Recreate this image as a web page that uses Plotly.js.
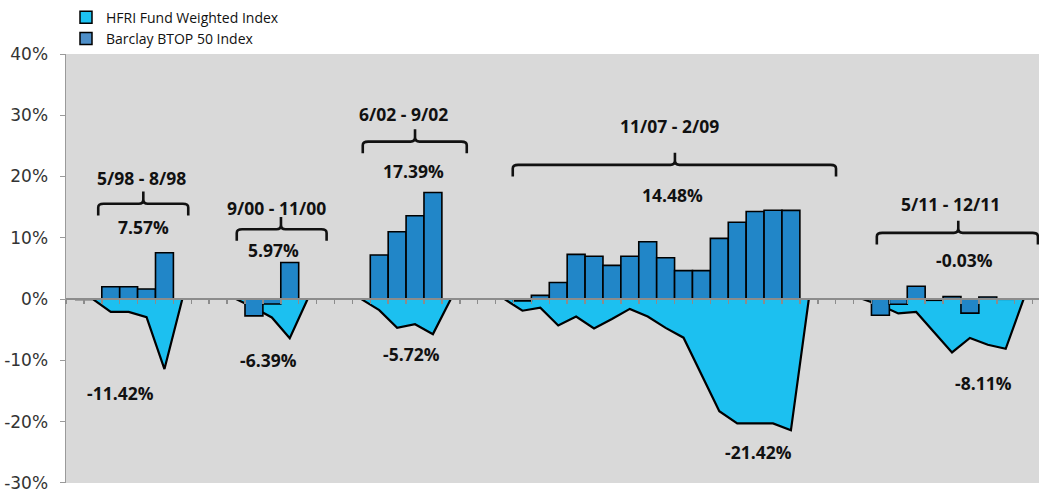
<!DOCTYPE html>
<html>
<head>
<meta charset="utf-8">
<script src="https://cdn.plot.ly/plotly-3.0.1.min.js"></script>
<style>html,body{margin:0;padding:0;background:#fff;}#chart{width:1039px;height:490px;}</style>
</head>
<body>
<div id="chart"></div>
<script>
// Monthly slots (episodes separated by blank slots)
const seriesNames = ['HFRI Fund Weighted Index', 'Barclay BTOP 50 Index'];

// HFRI Fund Weighted Index, cumulative return (%) per slot
const hfri = [0, 0, -2.1, -2.1, -2.95, -11.42, 0, null, null,
  0, -1.4, -3.0, -6.39, 0, null, null,
  0, -1.8, -4.7, -4.1, -5.72, 0, null, null,
  0, -1.9, -1.4, -4.3, -2.85, -4.8, -3.25, -1.6, -2.85, -4.7, -6.3, -12.3, -18.3, -20.3, -20.3, -20.3, -21.42, 0, null, null,
  0, -1.0, -2.35, -2.1, -5.4, -8.7, -6.35, -7.45, -8.11, 0];

// Barclay BTOP 50 Index, cumulative return (%) per slot
const btop = [null, null, 2.0, 2.0, 1.65, 7.57, null, null, null,
  null, -2.75, -0.8, 5.97, null, null, null,
  null, 7.2, 11.0, 13.6, 17.39, null, null, null,
  null, -0.3, 0.6, 2.7, 7.3, 7.0, 5.5, 7.0, 9.35, 6.75, 4.65, 4.65, 9.9, 12.55, 14.3, 14.5, 14.48, null, null, null,
  null, -2.65, -0.85, 2.1, -0.2, 0.4, -2.3, 0.35, -0.03, null];

// Y axis ticks
const yTickVals = [-30, -20, -10, 0, 10, 20, 30, 40];
const yTickText = ['-30%', '-20%', '-10%', '0%', '10%', '20%', '30%', '40%'];

// Episode labels
const periods = ['5/98 - 8/98', '9/00 - 11/00', '6/02 - 9/02', '11/07 - 2/09', '5/11 - 12/11'];
const btopLabels = ['7.57%', '5.97%', '17.39%', '14.48%', '-0.03%'];
const hfriLabels = ['-11.42%', '-6.39%', '-5.72%', '-21.42%', '-8.11%'];

// Annotation placement (slot units / percent)
const bracketL = [1.80, 9.54, 16.58, 24.96, 45.3];
const bracketR = [6.83, 14.56, 22.39, 43.02, 54.3];
const bracketC = [4.32, 12.01, 19.5, 34.02, 49.85];
const bracketY = [15.55, 11.4, 25.7, 21.9, 10.8];
const periodPos = [[4.19, 19.8], [11.77, 14.9], [18.84, 30.2], [33.74, 28.2], [49.39, 15.5]];
const btopPos = [[4.32, 11.8], [11.58, 8.0], [19.44, 20.9], [33.89, 17.0], [50.22, 6.4]];
const hfriPos = [[3.02, -15.4], [11.3, -10.0], [19.31, -8.9], [38.68, -24.9], [51.24, -13.7]];

const CYAN = '#1cc0f0';
const BLUE = '#2186c8';
const LABEL_FONT = {family: 'Open Sans, sans-serif', size: 17.5, color: '#111'};

const traces = [
  {type: 'scatter', mode: 'lines', name: seriesNames[0], x0: 0.5, dx: 1, y: hfri,
   fill: 'tozeroy', fillcolor: CYAN, line: {color: '#000', width: 2.2}, connectgaps: false,
   showlegend: false, xaxis: 'x', yaxis: 'y', hoverinfo: 'y'},
  {type: 'bar', name: seriesNames[1], x0: 0.5, dx: 1, y: btop, width: 1,
   marker: {color: BLUE, line: {color: '#000', width: 1.6}},
   showlegend: false, xaxis: 'x2', yaxis: 'y', hoverinfo: 'y'},
  // legend entries
  {type: 'bar', name: seriesNames[0], x: [null], y: [null], xaxis: 'x', yaxis: 'y',
   marker: {color: '#1dc3f3', line: {color: '#000', width: 1.5}}},
  {type: 'bar', name: seriesNames[1], x: [null], y: [null], xaxis: 'x', yaxis: 'y',
   marker: {color: '#4e8fc9', line: {color: '#000', width: 1.5}}}
];

const shapes = [];
const annotations = [];
for (let i = 0; i < periods.length; i++) {
  const xL = bracketL[i], xR = bracketR[i], xc = bracketC[i], yb = bracketY[i];
  const d = 'M' + xL + ',' + (yb - 1.9) + ' L' + xL + ',' + (yb - 0.6) + ' Q' + xL + ',' + yb + ' ' + (xL + 0.3) + ',' + yb +
    ' L' + (xc - 0.25) + ',' + yb + ' Q' + xc + ',' + yb + ' ' + xc + ',' + (yb + 0.7) + ' L' + xc + ',' + (yb + 2.0) +
    ' M' + xc + ',' + (yb + 0.7) + ' Q' + xc + ',' + yb + ' ' + (xc + 0.25) + ',' + yb +
    ' L' + (xR - 0.3) + ',' + yb + ' Q' + xR + ',' + yb + ' ' + xR + ',' + (yb - 0.6) + ' L' + xR + ',' + (yb - 1.9);
  shapes.push({type: 'path', xref: 'x', yref: 'y', path: d, line: {color: '#111', width: 2.6}, layer: 'above'});
  annotations.push({x: periodPos[i][0], y: periodPos[i][1], xref: 'x', yref: 'y', text: '<b>' + periods[i] + '</b>', showarrow: false, font: LABEL_FONT});
  annotations.push({x: btopPos[i][0], y: btopPos[i][1], xref: 'x', yref: 'y', text: '<b>' + btopLabels[i] + '</b>', showarrow: false, font: LABEL_FONT});
  annotations.push({x: hfriPos[i][0], y: hfriPos[i][1], xref: 'x', yref: 'y', text: '<b>' + hfriLabels[i] + '</b>', showarrow: false, font: LABEL_FONT});
}

const xRange = [0, 54.36];
const layout = {
  width: 1039, height: 490,
  margin: {l: 66, r: 0, t: 54, b: 7, pad: 0},
  paper_bgcolor: '#ffffff',
  plot_bgcolor: '#d9d9d9',
  barmode: 'overlay',
  bargap: 0,
  showlegend: true,
  legend: {x: 0, xanchor: 'left', y: 1.122, yanchor: 'top', bgcolor: 'rgba(0,0,0,0)',
           font: {family: 'Open Sans, sans-serif', size: 14, color: '#111'}, traceorder: 'normal'},
  xaxis: {range: xRange, anchor: 'free', position: 30 / 70, showline: true, linecolor: '#8c8c8c', linewidth: 2,
          ticks: 'outside', ticklen: 4, tickwidth: 1.5, tickcolor: '#8c8c8c', tickmode: 'linear', tick0: 0, dtick: 1,
          showticklabels: false, showgrid: false, zeroline: false, fixedrange: true, layer: 'above traces'},
  xaxis2: {range: xRange, overlaying: 'x', matches: 'x', visible: false, showgrid: false, zeroline: false},
  yaxis: {range: [-30.02, 40], tickmode: 'array', tickvals: yTickVals, ticktext: yTickText,
          showline: true, linecolor: '#9a9a9a', linewidth: 1.5, ticks: 'outside', ticklen: 5, tickcolor: '#9a9a9a',
          showgrid: false, zeroline: false, ticklabelstandoff: 8, ticklabeloverflow: 'allow',
          tickfont: {family: 'DejaVu Sans, sans-serif', size: 17, color: '#333'}},
  shapes: shapes,
  annotations: annotations
};

Plotly.newPlot('chart', traces, layout, {staticPlot: true, displayModeBar: false});
</script>
</body>
</html>
